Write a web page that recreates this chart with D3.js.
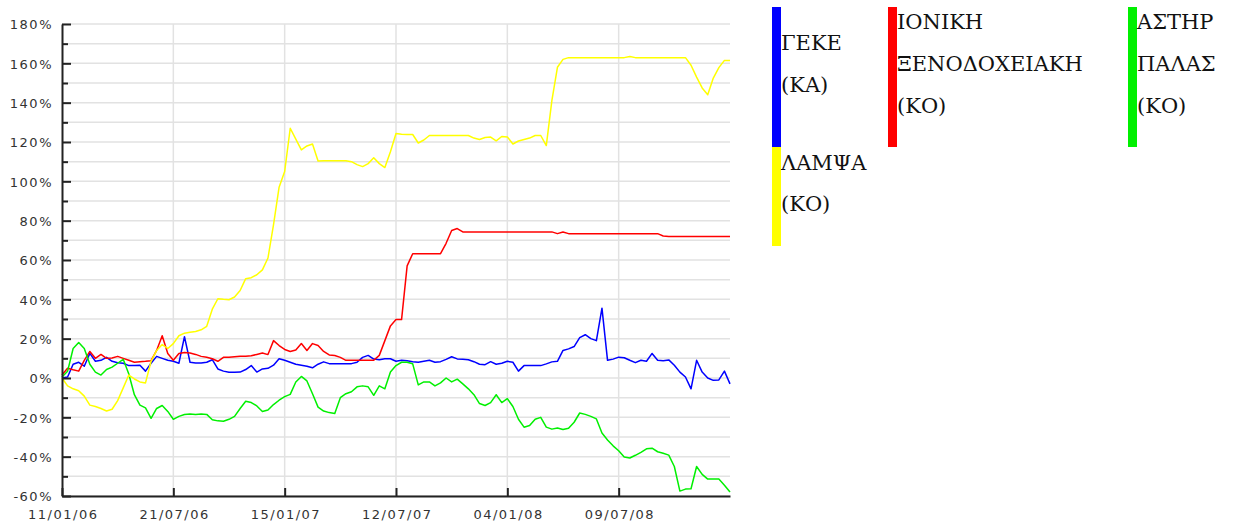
<!DOCTYPE html>
<html>
<head>
<meta charset="utf-8">
<script src="https://cdn.jsdelivr.net/npm/d3@7"></script>
<style>
  html, body { margin: 0; padding: 0; background: #fff; }
  svg { display: block; }
  .axis text { font-family: "DejaVu Sans", sans-serif; font-size: 13px; fill: #333; letter-spacing: 1.5px; }
  .axis path, .axis line { stroke: #222; }
  .legend text { font-family: "DejaVu Serif", serif; font-size: 21px; fill: #111; }
</style>
</head>
<body>
<svg id="chart" width="1235" height="522"></svg>
<script>
// ---- Data (weekly-ish sample index; tick label every 20 samples) ----
const tickLabels = ["11/01/06", "21/07/06", "15/01/07", "12/07/07", "04/01/08", "09/07/08"];
const tickIndex = [0, 20, 40, 60, 80, 100];
const yTicks = [-60, -40, -20, 0, 20, 40, 60, 80, 100, 120, 140, 160, 180];

const seriesNames = [["ΓΕΚΕ", "(ΚΑ)"], ["ΙΟΝΙΚΗ", "ΞΕΝΟΔΟΧΕΙΑΚΗ", "(ΚΟ)"], ["ΑΣΤΗΡ", "ΠΑΛΑΣ", "(ΚΟ)"], ["ΛΑΜΨΑ", "(ΚΟ)"]];
const seriesColors = ["#0000ff", "#ff0000", "#00f000", "#ffff00"];

const geke = [0,0.5,7,8,6,12.5,8.5,9,10.5,8.5,
 7.8,7.5,6.3,6.3,6.5,3.5,7.5,11,10,9,
 8.5,7.5,21,8,7.6,7.6,8,9.3,4.6,3.5,
 2.9,2.9,3,4.3,6.3,3,4.6,4.9,6.5,9.8,
 9,8,7,6.5,6,5.2,7,8.2,7.3,7.3,
 7.3,7.3,7.3,8,10.5,11.5,9.6,9.3,9.8,9.8,
 8.5,9,8.8,8.3,8,8.5,9,8,8.3,9.5,
 10.8,9.7,9.5,9.3,8.3,7,6.8,8.3,7,7.5,
 8.5,8,3.5,6.3,6.3,6.3,6.3,7.2,8.2,8.5,
 14,14.8,16,20.5,22,20,19,35.5,9,9.6,
 10.6,10.3,9,7.8,9,8.5,12.5,9,8.8,9.2,
 6.5,3,0.5,-5.5,9,3,0,-1.2,-1,3.5,
 -3];

const ioniki = [1.5,5,4.2,3.5,9,13.5,10,12,10,10.2,
 11,10,9,8,8.3,8.5,8.8,14,21.5,12.5,
 9,12.5,13,12.7,12,11,10.5,9.8,8.5,10.5,
 10.5,10.8,11,11,11.3,12,12.7,11.9,19,16.5,
 14.5,13.5,14.2,17.5,14,17.5,16.5,13.5,11.7,11.4,
 10.5,9,9,9,9,9,9,11.5,19,26.5,
 29.7,29.7,57,63.2,63.2,63.2,63.2,63.2,63.2,68.5,
 75,76,74.3,74.3,74.3,74.3,74.3,74.3,74.3,74.3,
 74.3,74.3,74.3,74.3,74.3,74.3,74.3,74.3,74.3,73.4,
 74.2,73.4,73.4,73.4,73.4,73.4,73.4,73.4,73.4,73.4,
 73.4,73.4,73.4,73.4,73.4,73.4,73.4,73.4,72.2,72,
 72,72,72,72,72,72,72,72,72,72,
 72];

const astir = [0.5,3.4,15,18,15,7,3,1.5,4.3,5.5,
 7.5,9.5,2,-8.5,-13.8,-15.2,-20.5,-15.5,-14,-17,
 -21,-19.5,-18.6,-18.3,-18.5,-18.3,-18.5,-21.2,-21.8,-22,
 -21,-19.5,-15.5,-11.8,-12.5,-14.2,-17,-16.3,-13.5,-11.3,
 -9.5,-8.3,-2,0.8,-1.5,-8,-14.8,-16.8,-17.6,-18,
 -10,-8,-7,-4.5,-4,-4.5,-8.8,-4,-5.5,3,
 6.3,8,8,7.2,-3.5,-2,-2,-4,-2.5,0,
 -2,-0.6,-3,-5.5,-8.5,-13,-14,-12.5,-8.5,-12.5,
 -10.5,-14.5,-21,-25,-24.2,-21,-20,-25,-26,-25.4,
 -26.2,-25.5,-22.5,-17.8,-18.5,-19.5,-20.8,-28,-31.5,-34.5,
 -37,-40.2,-40.7,-39.3,-37.8,-36,-35.7,-37.5,-38.3,-39.2,
 -45,-57.5,-56.5,-56.3,-45,-49,-51.4,-51.4,-51.4,-54.5,
 -58];

const lampsa = [0,-4,-5.5,-6.5,-9.2,-13.8,-14.5,-15.5,-16.8,-15.9,
 -11.5,-5,1.5,-0.5,-2,-2.5,8.5,14,17,15,
 17.5,21.5,22.8,23.3,23.6,24.5,26.3,35,40.3,40,
 39.8,41.2,44.5,50.5,51,52.5,55,61,78,97,
 105,127,121.5,116,118,119,110.3,110.5,110.5,110.5,
 110.5,110.5,110,108.5,107.5,109,112,109,107,115,
 124.3,124,123.8,123.8,119.5,121,123.3,123.3,123.3,123.3,
 123.3,123.3,123.3,123.3,122,121.3,122.3,122.5,120.6,122.8,
 122.6,119,120.5,121.3,122,123.3,123.3,118.2,141,158,
 162,162.9,162.9,162.9,162.9,162.9,162.9,162.9,162.9,162.9,
 162.9,162.9,163.5,162.9,162.9,162.9,162.9,162.9,162.9,162.9,
 162.9,162.9,162.9,159,153,147.5,144,152.5,157.8,161.5,
 161.5];

const allSeries = [geke, ioniki, astir, lampsa];

// ---- Drawing ----
const svg = d3.select("#chart");
const plotL = 62, plotR = 730, plotT = 24, plotB = 496;

const x = d3.scaleLinear().domain([0, geke.length - 1]).range([plotL, plotR]);
const y = d3.scaleLinear().domain([-60, 180]).range([plotB, plotT]);

// grid
const grid = svg.append("g");
grid.selectAll("line.h").data(d3.range(-60, 181, 10)).join("line")
  .attr("class", "h")
  .attr("x1", plotL).attr("x2", plotR).attr("y1", d => y(d)).attr("y2", d => y(d))
  .attr("stroke", "#e2e2e2").attr("stroke-width", 1.5);
grid.selectAll("line.v").data(tickIndex.slice(1)).join("line")
  .attr("class", "v")
  .attr("x1", d => x(d)).attr("x2", d => x(d)).attr("y1", plotT).attr("y2", plotB)
  .attr("stroke", "#e2e2e2").attr("stroke-width", 1.5);

// lines
const line = d3.line().x((d, i) => x(i)).y(d => y(d));
svg.append("g").selectAll("path").data(allSeries).join("path")
  .attr("d", d => line(d))
  .attr("fill", "none")
  .attr("stroke", (d, i) => seriesColors[i])
  .attr("stroke-width", 1.5)
  .attr("stroke-linejoin", "round");

// y axis (minor ticks)
const yMinor = svg.append("g").attr("class", "axis").attr("transform", `translate(${plotL},0)`)
  .call(d3.axisLeft(y).tickValues(d3.range(-50, 180, 20)).tickSizeInner(-6).tickSizeOuter(0).tickFormat(""));
yMinor.select(".domain").remove();
yMinor.selectAll("line").attr("stroke-width", 2);
// y axis (major)
const yAxis = svg.append("g").attr("class", "axis").attr("transform", `translate(${plotL},0)`)
  .call(d3.axisLeft(y).tickValues(yTicks).tickSizeInner(-9).tickSizeOuter(0).tickPadding(9).tickFormat(d => d + "%"));
yAxis.selectAll("line").attr("stroke-width", 2);
yAxis.select(".domain").attr("stroke-width", 2);
yAxis.selectAll("text").attr("dy", "0.38em");

// x axis
const xAxis = svg.append("g").attr("class", "axis").attr("transform", `translate(0,${plotB})`)
  .call(d3.axisBottom(x).tickValues(tickIndex).tickSizeInner(-8).tickSizeOuter(0).tickPadding(14)
    .tickFormat((d, i) => tickLabels[i]));
xAxis.selectAll("line").attr("stroke-width", 2);
xAxis.select(".domain").attr("stroke-width", 2);
xAxis.selectAll("text").attr("dx", "0.75px");

// legend
const legendCells = [
  { x: 772, y: 7, h: 140, base: [50, 92] },
  { x: 888, y: 7, h: 140, base: [29.3, 71, 112.7] },
  { x: 1128, y: 7, h: 140, base: [29.3, 71, 112.7] },
  { x: 772, y: 147, h: 99, base: [169.5, 211] }
];
const lg = svg.append("g").attr("class", "legend");
legendCells.forEach((c, i) => {
  lg.append("rect").attr("x", c.x).attr("y", c.y).attr("width", 9).attr("height", c.h).attr("fill", seriesColors[i]);
  seriesNames[i].forEach((t, k) => {
    lg.append("text").attr("x", c.x + 9).attr("y", c.base[k]).text(t);
  });
});
</script>
</body>
</html>
